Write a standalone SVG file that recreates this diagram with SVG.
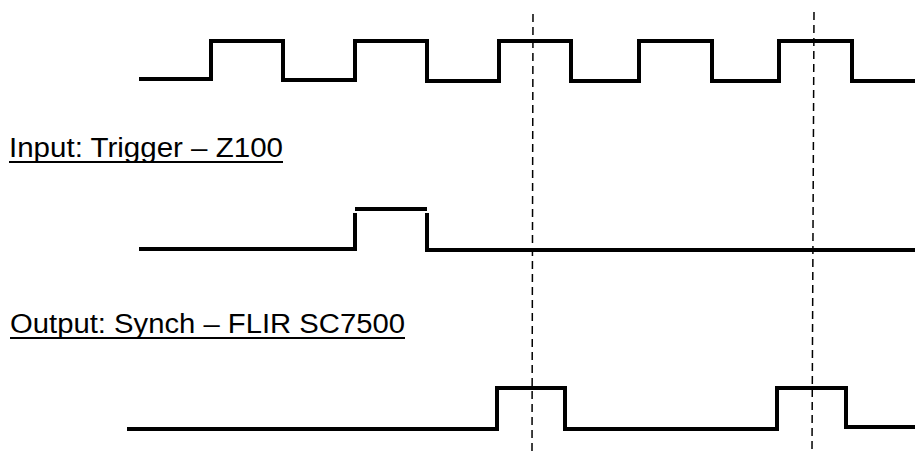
<svg xmlns="http://www.w3.org/2000/svg" width="915" height="452" viewBox="0 0 915 452">
<style>
.wave{fill:none;stroke:#000;stroke-width:4;stroke-linejoin:miter;stroke-linecap:butt}
.dash{fill:none;stroke:#000;stroke-width:1.5;stroke-dasharray:8 5}
.lbl{font-family:"Liberation Sans",Arial,sans-serif;font-size:27px;fill:#000}
.ul{stroke:#000;stroke-width:2}
</style>
<rect width="915" height="452" fill="#fff"/>
<g id="clock-signal">
<path class="wave" d="M139,79 H211 V41 H283 V80 H355 V41 H427 V81 H499 V41 H571 V81 H639 V41 H712 V81 H779 V41 H852 V81 H915"/>
</g>
<g id="input-label">
<text class="lbl" x="9" y="157" textLength="274" lengthAdjust="spacingAndGlyphs">Input: Trigger – Z100</text>
<line class="ul" x1="9" y1="162" x2="283" y2="162"/>
</g>
<g id="trigger-signal">
<path class="wave" d="M139,249 H355 V213"/>
<path class="wave" d="M355,209 H427"/>
<path class="wave" d="M427,213 V250 H915"/>
</g>
<g id="output-label">
<text class="lbl" x="10" y="333" textLength="395" lengthAdjust="spacingAndGlyphs">Output: Synch – FLIR SC7500</text>
<line class="ul" x1="10" y1="338" x2="405" y2="338"/>
</g>
<g id="synch-signal">
<path class="wave" d="M127,429 H497 V388 H565 V429 H777 V388 H846 V427 H915"/>
</g>
<g id="connectors">
<line class="dash" x1="533" y1="14" x2="532" y2="452"/>
<line class="dash" x1="814" y1="12" x2="812" y2="452"/>
</g>
</svg>
